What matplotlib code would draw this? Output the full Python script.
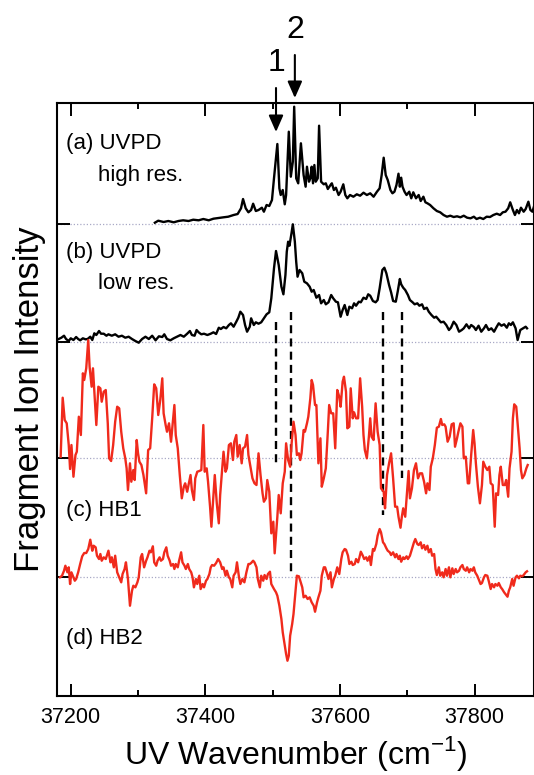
import numpy as np
import matplotlib
matplotlib.use('Agg')
import matplotlib.pyplot as plt
from matplotlib.ticker import MultipleLocator

plt.rcParams['font.family'] = ['Liberation Sans', 'DejaVu Sans']
plt.rcParams['mathtext.fontset'] = 'custom'
plt.rcParams['mathtext.rm'] = 'Liberation Sans'

# (a) UVPD high res.
wn_a = [37325, 37330, 37338, 37345, 37353, 37360, 37367, 37375, 37382, 37390, 37397, 37405,
        37412, 37419, 37427, 37434, 37442, 37448, 37453, 37456, 37460, 37464, 37468, 37471,
        37475, 37479, 37484, 37487, 37491, 37495, 37499, 37502, 37507, 37510, 37512, 37515,
        37518, 37520, 37524, 37527, 37530, 37532, 37535, 37538, 37542, 37546, 37549, 37551,
        37554, 37556, 37558, 37560, 37562, 37564, 37567, 37569, 37572, 37576, 37579, 37582,
        37586, 37588, 37591, 37594, 37598, 37601, 37605, 37608, 37611, 37615, 37620, 37625,
        37630, 37635, 37640, 37645, 37650, 37655, 37659, 37662, 37665, 37668, 37671, 37675,
        37678, 37681, 37684, 37687, 37689, 37691, 37693, 37696, 37699, 37703, 37706, 37709,
        37713, 37717, 37720, 37724, 37727, 37730, 37734, 37739, 37744, 37749, 37754, 37759,
        37764, 37769, 37774, 37779, 37784, 37789, 37794, 37799, 37803, 37808, 37813, 37818,
        37823, 37828, 37833, 37838, 37842, 37846, 37850, 37853, 37857, 37860, 37863, 37866,
        37869, 37873, 37876, 37880, 37883, 37886, 37889]
int_a = [1.3, 3.3, 2.0, 3.0, 1.7, 3.0, 3.7, 3.0, 4.3, 3.7, 5.0, 3.7,
         5.3, 6.0, 6.7, 7.3, 9.0, 10.0, 15.7, 25.0, 15.7, 11.7, 14.0, 20.3,
         13.0, 14.0, 16.3, 12.3, 19.0, 18.0, 24.0, 45.7, 80.0, 35.7, 29.0, 34.0,
         19.7, 29.0, 92.3, 47.3, 62.3, 117.3, 45.7, 40.7, 80.7, 49.0, 37.3, 57.3,
         42.3, 45.7, 57.3, 40.7, 59.0, 42.3, 45.7, 98.3, 42.3, 39.7, 40.7, 35.0,
         39.0, 40.7, 34.0, 36.3, 29.0, 32.3, 39.7, 29.0, 25.7, 29.0, 27.3, 29.7,
         28.3, 31.3, 29.0, 30.7, 27.3, 32.3, 35.7, 49.0, 66.3, 49.0, 44.0, 34.0,
         30.7, 32.3, 39.0, 50.3, 37.3, 46.3, 37.3, 32.3, 29.0, 32.3, 25.7, 31.7,
         25.7, 29.0, 23.0, 27.3, 21.7, 20.7, 19.0, 15.7, 13.0, 11.7, 9.0, 7.3,
         8.3, 7.0, 7.7, 6.7, 8.3, 6.3, 5.7, 7.3, 5.0, 6.3, 5.0, 7.3,
         7.0, 9.0, 10.3, 9.0, 11.7, 12.3, 15.7, 21.7, 14.0, 9.0, 14.0, 10.7,
         16.3, 12.3, 15.0, 22.3, 14.0, 12.3, 19.0]

# (b) UVPD low res.
wn_b = [37182, 37186, 37190, 37193, 37197, 37200, 37204, 37208, 37211, 37214, 37218, 37222,
        37225, 37229, 37232, 37235, 37238, 37242, 37245, 37249, 37253, 37256, 37261, 37266,
        37271, 37276, 37281, 37286, 37291, 37296, 37301, 37306, 37311, 37316, 37321, 37326,
        37331, 37336, 37339, 37343, 37348, 37353, 37358, 37363, 37368, 37373, 37377, 37380,
        37384, 37387, 37390, 37394, 37398, 37403, 37408, 37412, 37416, 37420, 37423, 37427,
        37431, 37435, 37438, 37442, 37446, 37449, 37452, 37456, 37459, 37462, 37466, 37468,
        37472, 37475, 37479, 37483, 37487, 37491, 37495, 37498, 37502, 37505, 37509, 37513,
        37516, 37519, 37521, 37523, 37525, 37528, 37530, 37533, 37535, 37537, 37540, 37544,
        37547, 37551, 37555, 37558, 37561, 37565, 37569, 37572, 37576, 37579, 37583, 37587,
        37590, 37594, 37597, 37601, 37604, 37607, 37611, 37614, 37618, 37621, 37624, 37628,
        37631, 37635, 37639, 37642, 37645, 37649, 37653, 37656, 37659, 37663, 37666, 37669,
        37673, 37676, 37679, 37683, 37686, 37689, 37691, 37694, 37697, 37701, 37704, 37708,
        37711, 37715, 37718, 37722, 37725, 37729, 37732, 37736, 37740, 37743, 37747, 37750,
        37754, 37758, 37762, 37765, 37769, 37773, 37777, 37781, 37784, 37788, 37792, 37795,
        37799, 37802, 37806, 37810, 37814, 37817, 37821, 37825, 37829, 37833, 37836, 37840,
        37844, 37848, 37851, 37854, 37857, 37861, 37864, 37868, 37872, 37876, 37878]
int_b = [3.0, 4.3, 6.3, 3.0, 1.0, 3.7, 2.0, 5.0, 3.0, 1.7, 3.7, 2.7,
         3.0, 5.3, 2.0, 8.7, 7.0, 11.0, 8.3, 8.3, 6.3, 7.7, 6.3, 7.7,
         5.3, 6.3, 4.3, 5.3, 3.0, 1.0, -0.7, 3.0, 5.3, 3.0, 6.3, 1.7,
         5.7, 5.0, 7.7, 3.0, 1.7, 3.7, 5.3, 7.0, 5.3, 8.3, 11.0, 7.0,
         6.3, 12.0, 9.7, 7.7, 8.3, 7.0, 8.3, 9.7, 8.0, 14.3, 13.0, 15.0,
         13.7, 17.0, 18.7, 15.3, 20.3, 24.3, 30.3, 27.0, 17.0, 10.3, 15.3, 23.7,
         17.0, 19.7, 18.3, 19.7, 23.7, 27.7, 29.7, 43.7, 73.7, 91.0, 77.0, 55.3,
         47.7, 67.0, 90.3, 100.3, 96.3, 108.7, 117.7, 100.3, 80.3, 65.3, 72.0, 68.7,
         60.3, 58.7, 55.3, 50.3, 52.0, 44.3, 47.0, 38.7, 42.0, 37.7, 39.7, 47.0,
         43.7, 40.3, 39.7, 25.3, 32.0, 37.0, 27.0, 35.3, 33.7, 38.7, 36.3, 40.3,
         39.7, 44.3, 43.0, 47.7, 46.3, 41.0, 39.7, 42.0, 53.7, 72.0, 74.3, 68.7,
         57.0, 49.7, 41.0, 40.3, 51.0, 63.0, 57.7, 54.3, 52.0, 47.0, 42.0, 39.7,
         37.7, 38.7, 36.3, 37.7, 33.0, 34.3, 30.3, 27.0, 24.3, 25.3, 22.0, 19.7,
         20.3, 17.0, 12.0, 14.3, 20.3, 17.0, 10.3, 12.0, 13.7, 17.7, 13.7, 17.0,
         15.0, 12.0, 16.3, 10.3, 13.7, 17.0, 12.0, 13.7, 10.3, 15.3, 18.7, 16.3,
         17.7, 14.3, 18.7, 17.0, 19.7, 13.7, 2.0, 12.0, 13.7, 15.3, 13.7]

# (c) HB1
wn_c = [37185, 37188, 37191, 37194, 37197, 37199, 37201, 37204, 37207, 37209, 37212, 37215,
        37218, 37220, 37223, 37226, 37228, 37231, 37233, 37236, 37238, 37241, 37244, 37246,
        37249, 37252, 37255, 37257, 37260, 37263, 37266, 37269, 37272, 37275, 37278, 37281,
        37283, 37285, 37288, 37290, 37293, 37295, 37298, 37300, 37302, 37305, 37308, 37312,
        37315, 37318, 37321, 37324, 37327, 37330, 37333, 37336, 37338, 37341, 37343, 37346,
        37349, 37351, 37354, 37356, 37359, 37362, 37365, 37368, 37370, 37373, 37375, 37378,
        37380, 37383, 37385, 37388, 37391, 37394, 37397, 37399, 37402, 37404, 37407, 37409,
        37412, 37414, 37417, 37420, 37422, 37425, 37427, 37430, 37432, 37435, 37438, 37441,
        37443, 37446, 37448, 37451, 37454, 37456, 37459, 37462, 37464, 37467, 37470, 37473,
        37476, 37479, 37482, 37485, 37487, 37490, 37492, 37495, 37498, 37501, 37503, 37507,
        37509, 37512, 37515, 37518, 37520, 37523, 37526,
        37528, 37531, 37534, 37536, 37539, 37541, 37543, 37546, 37548, 37551, 37553, 37556,
        37558, 37560, 37563, 37565, 37568, 37571, 37573, 37576, 37579, 37582, 37584, 37587,
        37590, 37593, 37596, 37599, 37601, 37604, 37606, 37609, 37611, 37614, 37616, 37619,
        37621, 37624, 37627, 37630, 37633, 37635, 37637, 37640, 37643, 37645, 37647, 37650,
        37653, 37656, 37659, 37661, 37665, 37667, 37670, 37673, 37676, 37679, 37682, 37685,
        37687, 37690, 37692, 37694, 37697, 37699, 37702, 37704, 37707, 37710, 37713, 37716,
        37719, 37722, 37725, 37728, 37730, 37733, 37735, 37738, 37741, 37744, 37747, 37750,
        37752, 37755, 37757, 37760, 37763, 37766, 37769, 37771, 37774, 37776, 37779, 37782,
        37784, 37787, 37790, 37792, 37795, 37798, 37800, 37802, 37805, 37808, 37811, 37813,
        37816, 37819, 37822, 37824, 37827, 37830, 37832, 37835, 37837, 37839, 37842, 37845,
        37847, 37850, 37852, 37855, 37857, 37859, 37862, 37864, 37867, 37869, 37871, 37874,
        37877, 37879]
int_c = [1.3, 60.3, 38.0, 34.7, 13.0, -11.0, 13.0, -18.7, 3.0, 6.3, 41.3, 23.0,
         84.7, 78.0, 89.7, 118.0, 91.3, 71.3, 89.7, 56.3, 33.0, 71.3, 69.7, 56.3,
         66.3, 68.0, 34.7, -0.3, -3.0, 13.0, 36.3, 51.3, 49.7, 26.3, 9.7, -0.3,
         -10.3, -32.0, -5.3, -23.7, -12.0, -22.0, 18.0, 4.7, -3.7, -7.0, -17.0, -35.3,
         8.0, 9.7, 39.7, 73.7, 69.7, 43.0, 58.0, 79.7, 44.7, 33.0, 26.3, 34.7,
         16.3, 31.3, 53.0, 23.0, 9.7, -17.0, -40.3, -28.7, -25.3, -33.7, -27.0, -17.0,
         -32.0, -42.0, -20.3, -13.7, -13.0, -12.0, 33.0, -13.7, -10.3, -23.7, -48.7, -68.7,
         -37.0, -17.0, -45.3, -65.3, -37.0, -10.3, 6.3, -13.7, -10.3, 13.0, 14.7, -2.0,
         16.3, 23.0, 1.3, 13.0, -5.3, 9.7, 11.3, 23.0, 3.0, -8.7, -20.3, -25.3,
         -27.0, 4.7, -17.0, -35.3, -43.7, -40.3, -22.0, -33.7, -75.3, -63.7, -95.3, -58.7,
         -37.0, -55.3, -25.3, -13.7, 14.7, -2.0, -8.7,
         13.0, 36.3, 23.0, 3.0, 4.7, -2.0, 4.7, 28.0, 26.3, 34.7, 41.3, 59.7,
         78.0, 73.0, 53.0, 53.0, -5.3, 19.7, -28.7, -20.3, -10.3, 26.3, 53.0, 44.7,
         44.7, 9.7, 68.0, 61.3, 51.3, 76.3, 81.3, 66.3, 29.7, 31.3, 69.7, 39.7,
         45.7, 39.7, 39.7, 79.7, 51.3, 23.0, 8.0, -0.3, 21.3, 39.7, 21.3, 18.0,
         54.7, 26.3, 13.0, -30.3, -33.7, -50.3, -17.0, -5.3, 4.7, -20.3, -48.7, -48.7,
         -58.7, -69.7, -58.7, -50.3, -58.7, -40.3, -13.0, -40.3, -30.3, -12.0, -5.3, -20.3,
         -15.3, -15.3, -23.7, -35.3, -25.3, -32.0, -8.7, -0.3, 13.0, 30.3, 31.3, 39.0,
         33.0, 33.7, 31.3, 16.3, 21.3, 33.7, 34.7, 11.3, 19.7, 26.3, 34.7, 31.3,
         -0.3, 1.3, -25.3, -25.3, 3.0, 28.0, 14.7, -5.3, -28.7, -45.3, -27.0, -3.7,
         -8.7, -12.0, -8.7, -25.3, -27.0, -68.7, -35.3, -37.0, -17.0, -8.7, -27.0, -27.0,
         -22.0, -38.7, -10.3, 6.3, 39.7, 53.7, 51.3, 34.7, 9.7, -12.0, -20.3, -17.0,
         -10.3, -7.0]

# (d) HB2
wn_d = [37184, 37187, 37190, 37192, 37195, 37197, 37199, 37201, 37203, 37206, 37208, 37211,
        37214, 37217, 37220, 37223, 37226, 37229, 37232, 37234, 37237, 37239, 37242, 37244,
        37246, 37249, 37252, 37254, 37256, 37259, 37261, 37264, 37266, 37269, 37272, 37275,
        37277, 37280, 37282, 37285, 37288, 37291, 37293, 37296, 37299, 37301, 37304, 37306,
        37309, 37312, 37314, 37317, 37319, 37322, 37324, 37327, 37329, 37332, 37334, 37337,
        37339, 37342, 37344, 37347, 37349, 37352, 37354, 37356, 37359, 37361, 37364, 37366,
        37369, 37371, 37374, 37376, 37379, 37381, 37383, 37386, 37388, 37391, 37393, 37396,
        37398, 37401, 37403, 37406, 37408, 37410, 37413, 37416, 37419, 37422, 37425, 37427,
        37430, 37432, 37435, 37437, 37440, 37442, 37445, 37447, 37450, 37452, 37455, 37458,
        37461, 37464, 37466, 37468, 37471, 37473, 37476, 37478, 37481, 37483, 37486, 37488,
        37491, 37493, 37496, 37498, 37502, 37505, 37507, 37510, 37513, 37515, 37518, 37520,
        37522, 37524, 37526, 37529, 37531, 37534, 37536, 37539, 37541, 37544, 37546, 37549,
        37552, 37555, 37558, 37561, 37563, 37566, 37568, 37571, 37573, 37576, 37578, 37581,
        37583, 37586, 37588, 37591, 37593, 37596, 37599, 37602, 37604, 37607, 37609, 37612,
        37614, 37617, 37619, 37622, 37624, 37627, 37629, 37631, 37634, 37636, 37639, 37641,
        37644, 37646, 37649, 37651, 37654, 37656, 37659, 37661, 37664, 37666, 37669, 37671,
        37674, 37676, 37679, 37682, 37684, 37687, 37689, 37691, 37694, 37696, 37699, 37701,
        37704, 37707, 37710, 37712, 37715, 37717, 37720, 37722, 37725, 37727, 37730, 37732,
        37735, 37737, 37740, 37742, 37744, 37747, 37749, 37752, 37754, 37757, 37759, 37762,
        37764, 37767, 37769, 37772, 37774, 37777, 37779, 37782, 37784, 37787, 37789, 37792,
        37794, 37797, 37799, 37801, 37804, 37806, 37809, 37811, 37814, 37816, 37819, 37821,
        37824, 37826, 37829, 37831, 37834, 37836, 37839, 37841, 37844, 37846, 37849, 37851,
        37853, 37856, 37858, 37861, 37863, 37866, 37868, 37871, 37873, 37876, 37878]
int_d = [-0.3, 1.3, 6.3, 11.3, 4.7, 9.7, -7.0, 4.7, 1.3, -3.7, -2.0, 4.7,
         13.0, 20.7, 24.0, 24.0, 28.0, 37.3, 26.3, 31.3, 29.7, 21.3, 18.0, 23.0,
         16.3, 19.7, 18.0, 22.0, 26.3, 14.7, 19.7, 9.7, 21.3, 4.7, -0.3, -5.3,
         3.0, 8.0, 14.7, -2.0, -28.7, -13.7, -8.7, -10.3, -5.3, -0.3, 19.7, 23.0,
         9.7, 16.3, 19.7, 26.3, 24.7, 30.7, 14.7, 11.3, 16.3, 19.7, 16.3, 18.0,
         24.7, 29.7, 21.3, 16.3, 11.3, 13.0, 8.0, 13.0, 9.7, 16.3, 24.7, 14.7,
         11.3, 8.0, 13.0, 8.0, 4.7, -0.3, -10.3, -2.0, -7.0, 1.3, -12.0, -7.0,
         -10.3, -3.7, -2.0, 3.0, 9.7, 12.0, 11.3, 14.0, 18.0, 14.7, 8.0, 9.7,
         1.3, 6.3, -0.3, -2.0, -10.3, 1.3, 4.7, 14.7, -0.3, -7.0, -2.0, -5.3,
         4.7, 13.0, 13.0, 14.0, 16.3, 14.7, 9.7, -2.0, -10.3, 1.3, -3.7, 2.0,
         -2.0, 3.0, 5.3, -7.0, -12.0, -15.3, -18.7, -28.7, -42.0, -55.3, -68.7, -77.0,
         -83.7, -78.7, -58.7, -47.0, -37.0, -13.7, 1.3, 0.7, -3.7, -10.3, -20.3, -18.7,
         -22.0, -20.3, -25.3, -28.7, -34.7, -25.3, -20.3, -13.7, 1.3, 9.7, 9.7, 3.0,
         -2.0, 4.7, -10.3, -2.0, 1.3, 9.7, 3.0, 18.0, 24.7, 28.0, 27.3, 21.3,
         13.0, 15.3, 12.0, 13.0, 18.0, 14.7, 19.7, 25.3, 21.3, 18.0, 19.7, 16.3,
         20.7, 12.0, 28.0, 26.3, 33.0, 41.3, 48.0, 44.7, 34.7, 33.0, 28.7, 26.3,
         24.7, 22.0, 24.7, 19.7, 23.0, 18.0, 21.3, 15.3, 19.7, 18.0, 20.7, 18.0,
         21.3, 28.0, 34.7, 38.0, 33.0, 32.0, 34.7, 28.7, 32.0, 27.3, 31.3, 24.7,
         28.0, 21.3, 23.0, 8.0, 2.0, 9.7, 1.3, 4.7, -0.3, 8.0, 1.3, 9.7,
         -0.3, 8.7, 3.0, 8.0, 4.7, 6.3, 9.7, 12.0, 8.0, 6.3, 9.7, 4.7,
         8.0, 6.3, 9.7, 4.7, 1.3, -2.0, -7.0, -6.0, -0.3, 2.0, 1.3, -3.7,
         -12.0, -7.0, -10.3, -7.0, -8.7, -6.0, -10.3, -12.0, -15.3, -17.0, -19.7, -13.7,
         -10.3, -2.0, -8.7, -0.3, 1.3, -1.3, 1.3, 0.7, 2.0, 4.7, 5.7]

traces = [(wn_a, int_a), (wn_b, int_b), (wn_c, int_c), (wn_d, int_d)]
offsets = [0, -118, -234, -353]
colors = ['black', 'black', '#f02a1c', '#f02a1c']
labels = [('(a) UVPD', 'high res.'), ('(b) UVPD', 'low res.'), ('(c) HB1', None), ('(d) HB2', None)]
label_y = [80, -28, -286, -414]

# band positions marked with dashed lines, and their vertical extent
band_wn = [37505, 37528, 37664, 37692]
band_top = [-98, -88, -88, -88]
band_bot = [-239, -349, -291, -254]

# arrows for conformers 1 and 2
arrow_wn = [37505, 37533]
arrow_names = ['1', '2']
arrow_tail = [136, 169]
arrow_tip = [92, 126]

ymin, ymax = -472, 121

fig = plt.figure(figsize=(5.34, 7.75), dpi=100)
ax = fig.add_axes([0.1073, 0.1019, 0.8935, 0.7652])

for i, (wn, inten) in enumerate(traces):
    ax.axhline(offsets[i], color='#a9a9c6', lw=0.9, ls=(0, (1, 1.6)), zorder=1)
    ax.plot(wn, np.array(inten) + offsets[i], color=colors[i], lw=1.7, zorder=3)
    ax.text(37193, label_y[i], labels[i][0], fontsize=16, ha='left', va='center')
    if labels[i][1]:
        ax.text(37241, label_y[i] - 31, labels[i][1], fontsize=16, ha='left', va='center')

for w, t, b in zip(band_wn, band_top, band_bot):
    ax.plot([w, w], [t, b], color='black', lw=1.7, dashes=(3.4, 2.2), zorder=2)

for w, name, t0, t1 in zip(arrow_wn, arrow_names, arrow_tail, arrow_tip):
    ax.annotate('', xy=(w, t1), xytext=(w, t0),
                arrowprops=dict(arrowstyle='-|>,head_length=0.5,head_width=0.22',
                                mutation_scale=20, lw=1.5, color='black',
                                shrinkA=0, shrinkB=0),
                annotation_clip=False)
    ax.text(w, t0 + 25, name, fontsize=23, ha='center', va='center')

ax.set_xlim(37180, 37889)
ax.set_ylim(ymin, ymax)
ax.xaxis.set_major_locator(MultipleLocator(200))
ax.xaxis.set_minor_locator(MultipleLocator(100))
ax.set_yticks([ymin] + offsets[::-1] + [ymax])
ax.tick_params(axis='x', which='major', direction='in', top=True, length=9, width=1.4,
               labelsize=15.5, pad=8)
ax.tick_params(axis='x', which='minor', direction='in', top=True, length=4.5, width=1.4)
ax.tick_params(axis='y', direction='in', right=True, length=9.5, width=1.4, labelleft=False)
for s in ax.spines.values():
    s.set_linewidth(1.5)

ax.set_xlabel('UV Wavenumber (cm$^{\\mathregular{-1}}$)', fontsize=23, labelpad=4)
ax.set_ylabel('Fragment Ion Intensity', fontsize=25, labelpad=8)

fig.savefig('out.png', dpi=100)
